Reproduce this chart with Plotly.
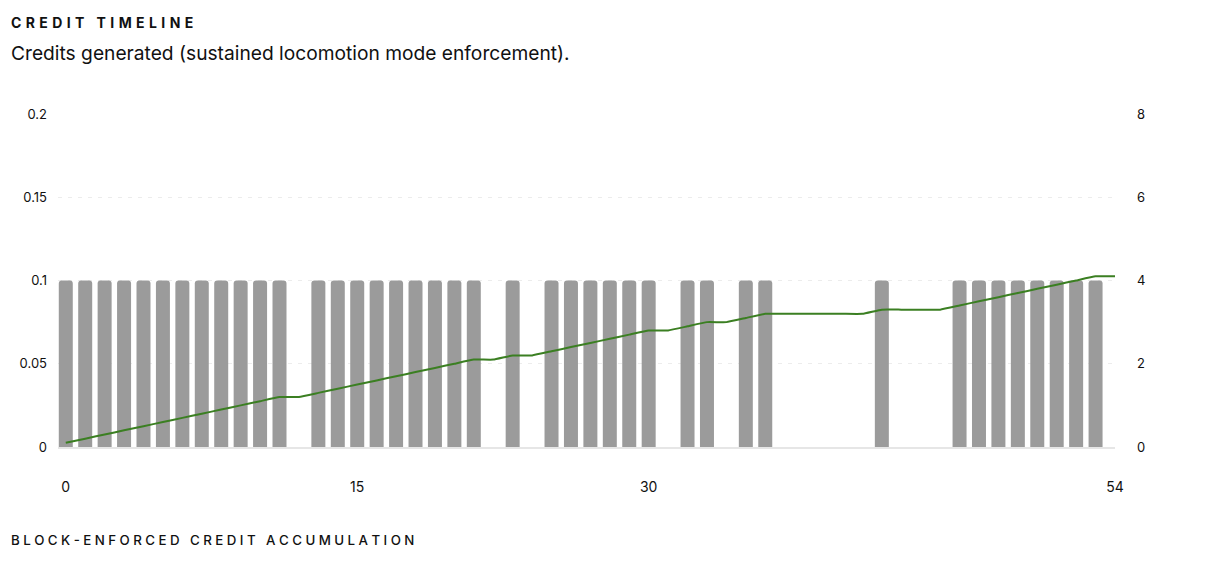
import plotly.graph_objects as go

# ---- data ----
steps = list(range(55))
credits = [0.1]*12 + [0] + [0.1]*9 + [0] + [0.1] + [0] + [0.1]*6 + [0] + [0.1]*2 + [0] + [0.1]*2 + [0]*5 + [0.1] + [0]*3 + [0.1]*8 + [0]
cumulative = [0.1, 0.2, 0.3, 0.4, 0.5, 0.6, 0.7, 0.8, 0.9, 1.0, 1.1, 1.2,
              1.2,
              1.3, 1.4, 1.5, 1.6, 1.7, 1.8, 1.9, 2.0, 2.1,
              2.1, 2.2, 2.2,
              2.3, 2.4, 2.5, 2.6, 2.7, 2.8,
              2.8, 2.9, 3.0, 3.0, 3.1, 3.2,
              3.2, 3.2, 3.2, 3.2, 3.2,
              3.3, 3.3, 3.3, 3.3,
              3.4, 3.5, 3.6, 3.7, 3.8, 3.9, 4.0, 4.1,
              4.1]
x_ticks = [0, 15, 30, 54]
left_ticks = [0, 0.05, 0.1, 0.15, 0.2]
left_labels = ["0", "0.05", "0.1", "0.15", "0.2"]
right_ticks = [0, 2, 4, 6, 8]

FONT = "Inter, 'Open Sans', sans-serif"

def spaced(s, gap):
    return gap.join(ch if ch != " " else "\u00a0" for ch in s)

# page has an 8px body margin; positions below are compensated
OFF = 8
ML, MR, MT, MB = 46, 99, 106, 123
W, H = 1206, 562

fig = go.Figure()
fig.add_trace(go.Bar(
    x=steps, y=credits, width=0.72,
    marker=dict(color="#9b9b9b", line=dict(width=0)),
    showlegend=False, hoverinfo="skip",
))
fig.add_trace(go.Scatter(
    x=steps, y=cumulative, yaxis="y2", mode="lines",
    line=dict(color="#3b7f22", width=2, shape="spline", smoothing=0.3),
    showlegend=False, hoverinfo="skip",
))

fig.update_layout(
    width=W, height=H,
    margin=dict(l=ML, r=MR, t=MT, b=MB),
    paper_bgcolor="white", plot_bgcolor="white",
    font=dict(family=FONT, color="#111111", size=13),
    barcornerradius=3,
    xaxis=dict(
        range=[-0.4, 54], tickmode="array", tickvals=x_ticks,
        showgrid=False, zeroline=False,
        showline=True, linecolor="#e6e6e6", linewidth=2,
        ticks="", ticklabelstandoff=26,
        tickfont=dict(size=14, color="#111111"),
    ),
    yaxis=dict(
        range=[0, 0.2], tickmode="array", tickvals=left_ticks, ticktext=left_labels,
        showgrid=True, gridcolor="#ececec", griddash="4px,6px", gridwidth=1,
        zeroline=False, ticks="", ticklabelstandoff=10,
        tickfont=dict(size=13, color="#111111"),
    ),
    yaxis2=dict(
        range=[0, 8], overlaying="y", side="right", tickmode="array",
        tickvals=right_ticks, showgrid=False, zeroline=False, ticks="",
        ticklabelstandoff=21, tickfont=dict(size=13, color="#111111"),
    ),
)

pw = W - ML - MR
ph = H - MT - MB

def px_to_paper(px, py):
    return (px - OFF - ML) / pw, (H - MB - (py - OFF)) / ph

def add_text(text, px, py, size, weight=400):
    ax, ay = px_to_paper(px, py)
    fig.add_annotation(text=text, x=ax, y=ay, xref="paper", yref="paper",
                       showarrow=False, xanchor="left", yanchor="middle",
                       font=dict(size=size, color="#111111", family=FONT, weight=weight))

add_text(spaced("CREDIT TIMELINE", "\u2009\u2009"), 5, 22, 14, 700)
add_text("Credits generated (sustained locomotion mode enforcement).", 5, 53, 19.2, 400)
add_text(spaced("BLOCK-ENFORCED CREDIT ACCUMULATION", "\u2009\u200a"), 5, 540, 13.3, 500)

fig.write_html("out.html")
